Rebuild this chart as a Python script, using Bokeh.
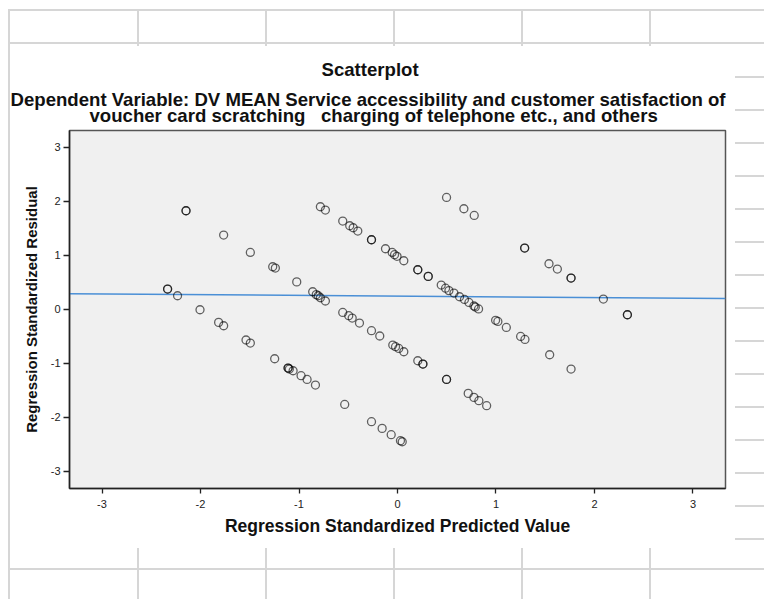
from bokeh.plotting import figure
from bokeh.models import Title, FixedTicker, Range1d, ColumnDataSource
from bokeh.embed import file_html
from bokeh.resources import INLINE

# Regression standardized predicted values (x) and residuals (y)
pred = [
    -2.147, -2.147, -1.765, -1.494, -1.267, -1.240, -1.023, -0.861, -0.825, -0.805,
    -0.783, -0.732, -0.556, -0.495, -0.460, -0.386, -0.264, -0.180, -0.048, -0.020,
    0.013, 0.064, 0.206, 0.258, 0.258, 0.498, 0.498, 0.718, 0.776, 0.826, 0.905,
    -2.334, -2.334, -2.233, -2.005, -1.816, -1.765, -1.538, -1.494, -1.247, -1.111,
    -1.111, -1.098, -1.060, -0.979, -0.918, -0.833, -0.536, -0.264, -0.156, -0.064,
    0.030, 0.048,
    -0.783, -0.732, -0.556, -0.485, -0.450, -0.403, -0.264, -0.264, -0.122, -0.054,
    -0.030, -0.005, 0.064, 0.206, 0.206, 0.312, 0.312, 0.444, 0.488, 0.522, 0.573,
    0.630, 0.680, 0.725, 0.776, 0.790, 0.823, 0.996, 1.019, 1.105, 1.250, 1.294,
    1.545, 1.762,
    0.498, 0.674, 0.779, 1.291, 1.291, 1.538, 1.623, 1.762, 1.762, 2.090, 2.334, 2.334,
]
resid = [
    1.824, 1.824, 1.374, 1.052, 0.787, 0.763, 0.506, 0.324, 0.270, 0.250,
    0.213, 0.152, -0.059, -0.120, -0.163, -0.256, -0.398, -0.496, -0.663, -0.694,
    -0.726, -0.787, -0.954, -1.015, -1.015, -1.300, -1.300, -1.559, -1.633, -1.694, -1.787,
    0.374, 0.374, 0.250, -0.010, -0.244, -0.306, -0.570, -0.626, -0.917, -1.089,
    -1.089, -1.107, -1.139, -1.231, -1.300, -1.404, -1.763, -2.083, -2.207, -2.324,
    -2.435, -2.454,
    1.898, 1.837, 1.633, 1.546, 1.509, 1.448, 1.287, 1.287, 1.120, 1.052,
    1.010, 0.980, 0.898, 0.731, 0.731, 0.608, 0.608, 0.448, 0.390, 0.345, 0.300,
    0.231, 0.181, 0.126, 0.060, 0.040, 0.005, -0.205, -0.226, -0.337, -0.504, -0.560,
    -0.843, -1.108,
    2.070, 1.861, 1.737, 1.133, 1.133, 0.842, 0.744, 0.577, 0.577, 0.188, -0.102, -0.102,
]

# Fit line (intercept, slope)
fit_intercept = 0.243
fit_slope = -0.013

x_ticks = [-3, -2, -1, 0, 1, 2, 3]
y_ticks = [-3, -2, -1, 0, 1, 2, 3]
x_tick_labels = ["-3", "-2", "-1", "0", "1", "2", "3"]
y_tick_labels = ["-3", "-2", "-1", "0", "1", "2", "3"]

title_text = "Scatterplot"
sub1_text = "Dependent Variable: DV MEAN Service accessibility and customer satisfaction of"
sub2_text = "voucher card scratching\u00a0\u00a0\u00a0charging of telephone etc., and others"
x_label = "Regression Standardized Predicted Value"
y_label = "Regression Standardized Residual"

FONT = "Liberation Sans"
W, H = 764, 599
FL, FR, FT, FB = 69, 725, 130, 488   # frame edges in page pixels

x_lo, x_hi = -3.33, 3.33
y_lo, y_hi = -3.32, 3.31

p = figure(width=W, height=H, output_backend="svg", toolbar_location=None,
           x_range=Range1d(x_lo, x_hi), y_range=Range1d(y_lo, y_hi),
           min_border_left=FL, min_border_right=W - FR, min_border_top=FT,
           min_border_bottom=H - FB, x_axis_label=x_label, y_axis_label=y_label)

# spreadsheet-like background lines (decoration), drawn with CSS
grid_col = "#d6d6d6"
rects = []
rects.append((8, 9, W - 8, 2))
rects.append((8, 42, W - 8, 2))
rects.append((8, 568, W - 8, 2))
for cx in [8, 137, 265, 393, 521, 649]:
    rects.append((cx, 9, 2, 37))
    rects.append((cx, 548, 2, 51))
rects.append((8, 9, 2, H - 9))
for k in range(15):
    rects.append((735, 76 + 33 * k, 29, 2))
imgs = ",".join([f"linear-gradient({grid_col},{grid_col})"] * len(rects))
poss = ",".join(f"{x}px {y}px" for x, y, w, h in rects)
sizes = ",".join(f"{w}px {h}px" for x, y, w, h in rects)
p.styles = {"background-color": "white", "background-image": imgs,
            "background-position": poss, "background-size": sizes,
            "background-repeat": "no-repeat"}

p.border_fill_color = None
p.background_fill_color = "#f0f0f0"
p.outline_line_color = "#555555"
p.outline_line_width = 1.5
p.grid.visible = False

for ax, ticks, labels in ((p.xaxis, x_ticks, x_tick_labels), (p.yaxis, y_ticks, y_tick_labels)):
    ax.ticker = FixedTicker(ticks=ticks)
    ax.major_label_overrides = {t: l for t, l in zip(ticks, labels)}
    ax.axis_line_color = "#222222"
    ax.axis_line_width = 1.5
    ax.major_tick_line_color = "#222222"
    ax.major_tick_line_width = 1.3
    ax.major_tick_in = 0
    ax.minor_tick_line_color = None
    ax.major_label_text_font = FONT
    ax.major_label_text_font_size = "11px"
    ax.major_label_text_color = "#222222"
    ax.axis_label_text_font = FONT
    ax.axis_label_text_font_style = "bold"
    ax.axis_label_text_color = "#111111"

p.xaxis.axis_label_text_font_size = "17.5px"
p.yaxis.axis_label_text_font_size = "15px"
p.xaxis.major_tick_out = 5
p.xaxis.major_label_standoff = 6
p.xaxis.axis_label_standoff = 5
p.yaxis.major_tick_out = 6
p.yaxis.major_label_standoff = 3
p.yaxis.axis_label_standoff = 8

fx = [x_lo, x_hi]
fy = [fit_intercept + fit_slope * v for v in fx]
p.line(fx, fy, line_color="#4a8fd6", line_width=1.5)

src = ColumnDataSource(data=dict(x=pred, y=resid))
p.scatter("x", "y", source=src, marker="circle", size=8, fill_color=None,
          line_color="black", line_alpha=0.6, line_width=1.3)

TSIZE = "18.6px"
t2 = Title(text=sub2_text, align="left", offset=20, standoff=8.4,
           text_font=FONT, text_font_size=TSIZE, text_font_style="bold",
           text_color="#111111")
t1 = Title(text=sub1_text, align="left", offset=-59, standoff=-20.6,
           text_font=FONT, text_font_size=TSIZE, text_font_style="bold",
           text_color="#111111")
t0 = Title(text=title_text, align="left", offset=252, standoff=34.4,
           text_font=FONT, text_font_size=TSIZE, text_font_style="bold",
           text_color="#111111")
p.add_layout(t2, "above")
p.add_layout(t1, "above")
p.add_layout(t0, "above")

open("out.html", "w").write(file_html(p, INLINE))
